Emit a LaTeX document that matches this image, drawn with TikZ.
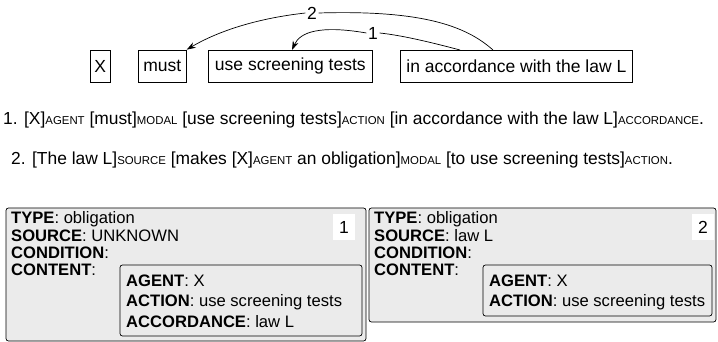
\documentclass[tikz,border=0pt]{standalone}
\usepackage{fontspec}
\setmainfont{Liberation Sans}
\usetikzlibrary{arrows.meta}
\newcommand{\rl}[1]{{\fontsize{11.4}{12}\selectfont\MakeUppercase{#1}}}
\begin{document}
\begin{tikzpicture}[x=1pt,y=-1pt,
  wordbox/.style={draw,line width=0.7pt,minimum height=32pt,inner xsep=4pt,font=\fontsize{17.5}{18}\selectfont,anchor=west},
  numlbl/.style={fill=white,inner sep=1.5pt,font=\fontsize{17.5}{18}\selectfont},
  conn/.style={line width=0.7pt},
  arr/.style={conn,-{Stealth[length=9pt,width=6pt]}},
  frame/.style={draw,line width=0.7pt,rounded corners=2.5pt,fill=black!8},
  txt/.style={anchor=base west,font=\fontsize{16.6}{18}\selectfont,inner sep=0pt},
  sent/.style={anchor=base west,font=\fontsize{17.4}{18}\selectfont,inner sep=0pt},
  numbox/.style={fill=white,minimum width=22pt,minimum height=26pt,font=\fontsize{17.5}{18}\selectfont}]
\useasboundingbox (0,0) rectangle (718,342);
% top row
\node[wordbox,minimum width=19pt] (x) at (90,66) {X};
\node[wordbox,minimum width=48pt] (must) at (138,66) {must};
\node[wordbox,minimum width=164pt] (use) at (208,66) {use screening tests};
\node[wordbox,minimum width=232pt] (acc) at (400,66) {in accordance with the law L};
\coordinate (a2) at (493,50);
\coordinate (a1) at (460,50);
\node[numlbl] (l2) at (312,13) {2};
\node[numlbl] (l1) at (373,33) {1};
\draw[conn] (a2) .. controls (465,25) and (420,10) .. (l2.east);
\draw[arr] (l2.west) .. controls (260,18) and (220,30) .. (must.north east);
\draw[conn] (a1) .. controls (430,42) and (400,35) .. (l1.east);
\draw[arr] (l1.west) .. controls (320,25) and (300,32) .. (292,50);
% sentences
\node[sent] (s1) at (3,125) {1. [X]\rl{agent} [must]\rl{modal} [use screening tests]\rl{action} [in accordance with the law L]\rl{accordance}.};
\node[sent] (s2) at (11,165) {2. [The law L]\rl{source} [makes [X]\rl{agent} an obligation]\rl{modal} [to use screening tests]\rl{action}.};
% frame 1
\draw[frame] (6,208) rectangle (366,341);
\node[numbox] (n1) at (344,227) {1};
\node[txt] (t1a) at (11,223) {\textbf{TYPE}: obligation};
\node[txt] (t1b) at (11,241) {\textbf{SOURCE}: UNKNOWN};
\node[txt] (t1c) at (11,258) {\textbf{CONDITION}:};
\node[txt] (t1d) at (11,275) {\textbf{CONTENT}:};
\draw[frame] (120,265) rectangle (362,336);
\node[txt] (i1a) at (126,286) {\textbf{AGENT}: X};
\node[txt] (i1b) at (126,306) {\textbf{ACTION}: use screening tests};
\node[txt] (i1c) at (126,327) {\textbf{ACCORDANCE}: law L};
% frame 2
\draw[frame] (369,208) rectangle (716,322);
\node[numbox] (n2) at (703,227) {2};
\node[txt] (t2a) at (374,223) {\textbf{TYPE}: obligation};
\node[txt] (t2b) at (374,241) {\textbf{SOURCE}: law L};
\node[txt] (t2c) at (374,258) {\textbf{CONDITION}:};
\node[txt] (t2d) at (374,275) {\textbf{CONTENT}:};
\draw[frame] (483,265) rectangle (712,316);
\node[txt] (i2a) at (489,286) {\textbf{AGENT}: X};
\node[txt] (i2b) at (489,306) {\textbf{ACTION}: use screening tests};
\end{tikzpicture}
\end{document}
